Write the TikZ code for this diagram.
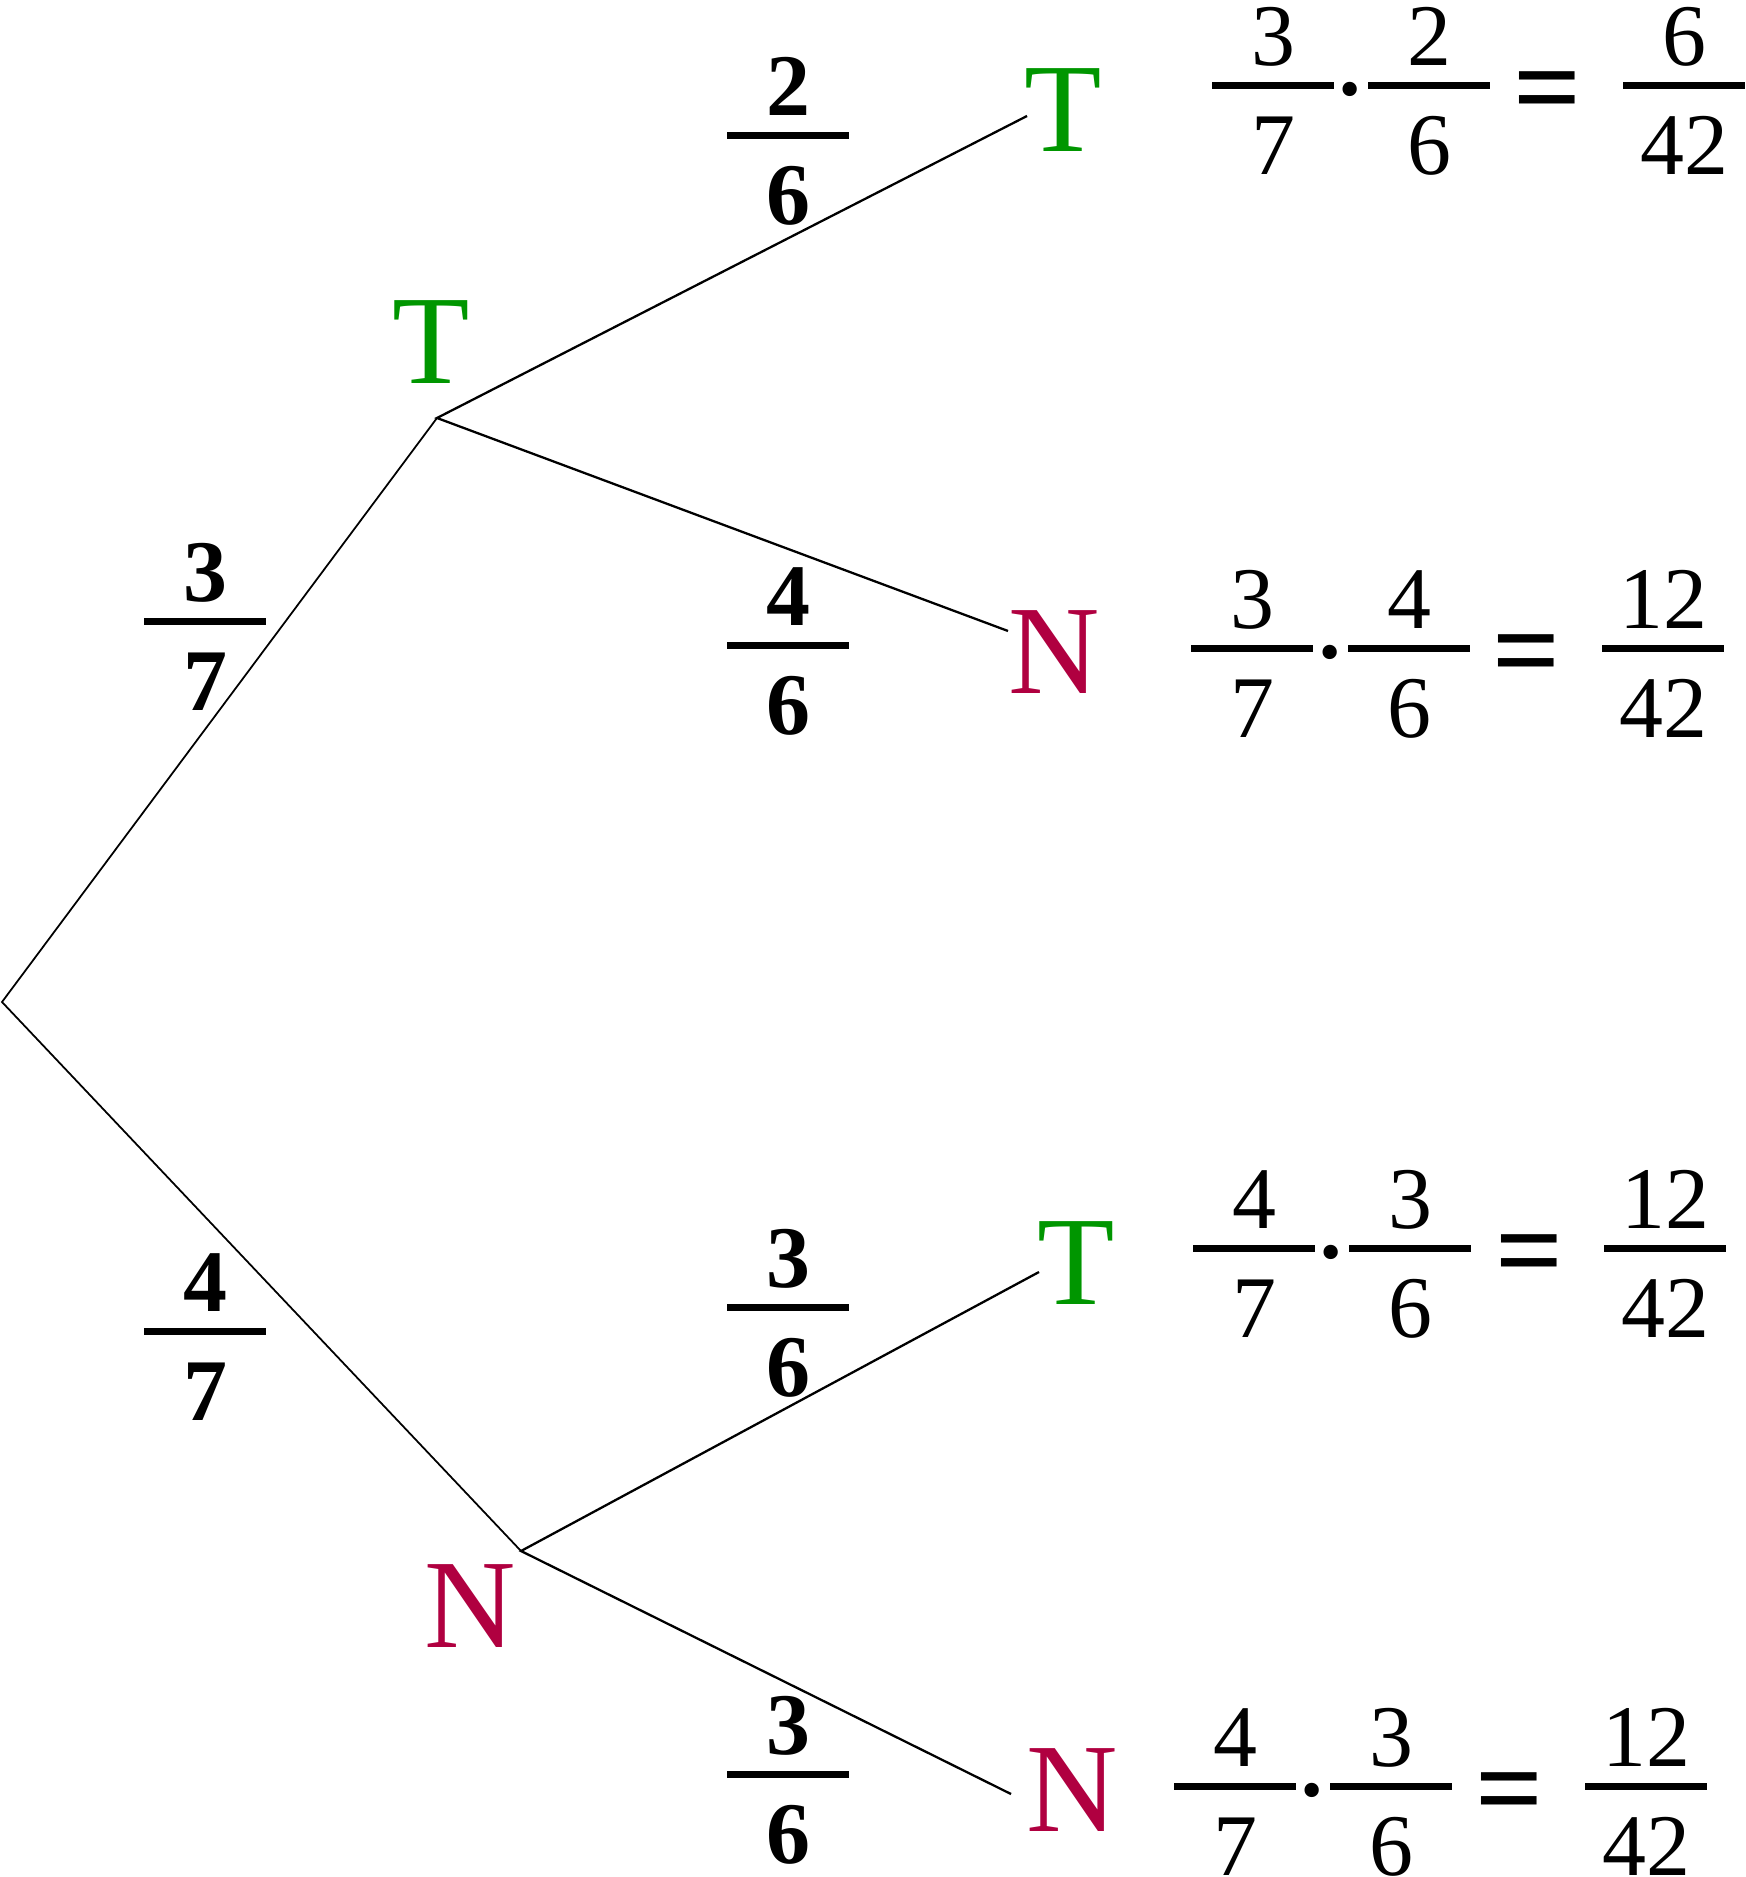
\documentclass[tikz,border=0pt]{standalone}
\usepackage{fontspec}
\setmainfont{Liberation Serif}
\definecolor{tgreen}{RGB}{0,150,0}
\definecolor{ncrimson}{RGB}{176,0,64}

% fraction: style, name, x, y of the bar, numerator, denominator
\newcommand{\probfrac}[6]{%
  \node[fracbar] (#2) at (#3,#4) {};
  \node[#1] (#2-num) at (#3,#4-20) {#5};
  \node[#1] (#2-den) at (#3,#4+89) {#6};
}

\begin{document}
\begin{tikzpicture}[
  x=0.01cm, y=-0.01cm,
  edge/.style={line width=0.5pt},
  subedge/.style={line width=0.65pt},
  fracbar/.style={rectangle, fill=black, inner sep=0pt,
    minimum width=1.22cm, minimum height=0.07cm},
  brlab/.style={anchor=base, inner sep=0pt,
    font=\fontsize{25}{30}\selectfont\bfseries},
  reslab/.style={anchor=base, inner sep=0pt,
    font=\fontsize{25}{30}\selectfont},
  dotop/.style={anchor=base, inner sep=0pt,
    font=\fontsize{25}{30}\selectfont\bfseries},
  eqop/.style={anchor=base, inner sep=0pt,
    font=\fontsize{34}{40}\selectfont\bfseries},
  tlet/.style={anchor=base, inner sep=0pt, text=tgreen,
    font=\fontsize{36}{40}\selectfont},
  nlet/.style={anchor=base, inner sep=0pt, text=ncrimson,
    font=\fontsize{36}{40}\selectfont},
]
\useasboundingbox (0,0) rectangle (1745,1877);

% Tree
\coordinate (root) at (2,1002);
\coordinate (t) at (437,418);
\coordinate (n) at (521,1551);
\coordinate (tt) at (1027,116);
\coordinate (tn) at (1008,631);
\coordinate (nt) at (1039,1272);
\coordinate (nn) at (1011,1794);
\draw[edge] (t) -- (root) -- (n);
\draw[subedge] (tt) -- (t) -- (tn);
\draw[subedge] (nt) -- (n) -- (nn);

% Outcomes
\node[tlet] (T1) at (431,384) {T};
\node[nlet] (N1) at (470,1647) {N};
\node[tlet] (TT) at (1063,152) {T};
\node[nlet] (TN) at (1054,694) {N};
\node[tlet] (NT) at (1076,1304) {T};
\node[nlet] (NN) at (1072,1831) {N};

% Branch probabilities
\probfrac{brlab}{p-t}{205}{622}{3}{7}
\probfrac{brlab}{p-n}{205}{1331}{4}{7}
\probfrac{brlab}{p-tt}{788}{136}{2}{6}
\probfrac{brlab}{p-tn}{788}{646}{4}{6}
\probfrac{brlab}{p-nt}{788}{1307}{3}{6}
\probfrac{brlab}{p-nn}{788}{1774}{3}{6}

% Row 1: T T
\probfrac{reslab}{r1a}{1273}{86}{3}{7}
\node[dotop] (r1dot) at (1350,119) {·};
\probfrac{reslab}{r1b}{1429}{86}{2}{6}
\node[eqop] (r1eq) at (1548,128) {=};
\probfrac{reslab}{r1c}{1684}{86}{6}{42}

% Row 2: T N
\probfrac{reslab}{r2a}{1252}{649}{3}{7}
\node[dotop] (r2dot) at (1330,682) {·};
\probfrac{reslab}{r2b}{1409}{649}{4}{6}
\node[eqop] (r2eq) at (1527,691) {=};
\probfrac{reslab}{r2c}{1663}{649}{12}{42}

% Row 3: N T
\probfrac{reslab}{r3a}{1254}{1248}{4}{7}
\node[dotop] (r3dot) at (1331,1281) {·};
\probfrac{reslab}{r3b}{1410}{1248}{3}{6}
\node[eqop] (r3eq) at (1530,1290) {=};
\probfrac{reslab}{r3c}{1665}{1248}{12}{42}

% Row 4: N N
\probfrac{reslab}{r4a}{1235}{1786}{4}{7}
\node[dotop] (r4dot) at (1312,1819) {·};
\probfrac{reslab}{r4b}{1391}{1786}{3}{6}
\node[eqop] (r4eq) at (1510,1828) {=};
\probfrac{reslab}{r4c}{1646}{1786}{12}{42}

\end{tikzpicture}
\end{document}
